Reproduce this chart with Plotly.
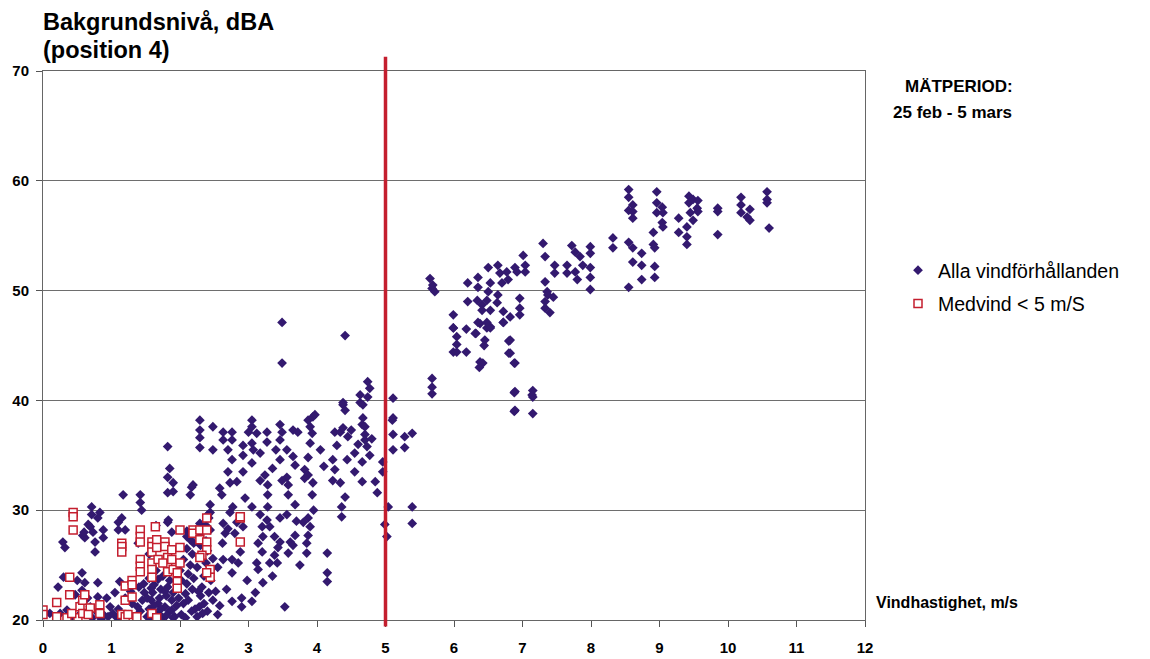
import plotly.graph_objects as go

# ---------------- DATA ----------------
# "Alla vindförhållanden" – points grouped by wind-speed band (m/s, dBA)
alla_0_1 = [(0.10, 20.6), (0.25, 20.6), (0.35, 20.9), (0.42, 20.3), (0.22, 23.0), (0.30, 23.9),
            (0.29, 27.1), (0.32, 26.6), (0.47, 22.3), (0.50, 23.6), (0.55, 21.5), (0.57, 24.3),
            (0.61, 23.4), (0.57, 22.7), (0.61, 20.6), (0.69, 21.2), (0.71, 30.3), (0.71, 29.6),
            (0.83, 29.8), (0.80, 29.3), (0.66, 28.7), (0.58, 27.7), (0.61, 27.5), (0.76, 27.1),
            (0.88, 28.2), (0.88, 27.5), (0.76, 26.2), (0.80, 23.4), (0.80, 22.1), (0.93, 22.0),
            (0.98, 21.2), (0.79, 20.7), (0.88, 20.5), (0.95, 20.3), (0.72, 20.2), (0.85, 20.1),
            (0.60, 28.0), (0.52, 20.4), (0.65, 22.0), (0.69, 28.5), (0.73, 28.0)]
alla_1_2 = [(1.17, 31.4), (1.15, 29.3), (1.10, 28.9), (1.10, 28.2), (1.20, 28.2), (1.42, 31.4),
            (1.42, 30.7), (1.44, 30.0), (1.39, 27.0), (1.05, 22.5), (1.10, 21.0), (1.15, 20.3),
            (1.25, 20.5), (1.30, 21.5), (1.35, 20.2), (1.45, 21.8), (1.48, 22.5), (1.40, 23.0),
            (1.20, 22.0), (1.02, 20.6), (1.08, 20.2), (1.28, 22.6), (1.42, 20.8), (1.38, 21.2),
            (1.47, 23.3), (1.12, 23.5),
            (1.52, 20.3), (1.55, 21.0), (1.58, 21.8), (1.60, 22.5), (1.62, 23.2), (1.65, 20.6),
            (1.68, 21.5), (1.70, 22.0), (1.72, 22.8), (1.75, 20.2), (1.78, 21.2), (1.80, 22.2),
            (1.82, 23.0), (1.85, 20.8), (1.88, 21.8), (1.90, 22.5), (1.92, 20.3), (1.95, 21.3),
            (1.98, 22.0), (1.55, 23.8), (1.60, 20.1), (1.70, 20.5), (1.80, 20.4), (1.90, 20.2),
            (1.65, 24.5), (1.75, 24.0), (1.85, 23.6), (1.58, 22.9), (1.68, 23.7), (1.72, 21.0),
            (1.95, 23.5), (1.62, 21.3), (1.78, 22.6), (1.88, 20.9), (1.52, 22.0), (1.58, 20.7),
            (1.82, 33.0), (1.90, 32.5), (1.82, 31.6), (1.90, 31.7), (1.83, 29.1), (1.82, 28.9),
            (1.88, 28.0), (1.72, 27.0), (1.65, 28.6), (1.55, 26.0), (1.82, 35.8), (1.85, 33.8)]
alla_2_3 = [(2.02, 20.5), (2.05, 21.5), (2.08, 22.4), (2.10, 23.3), (2.12, 24.2), (2.15, 25.0),
            (2.18, 26.0), (2.20, 27.0), (2.22, 27.8), (2.25, 20.3), (2.28, 21.2), (2.30, 22.2),
            (2.32, 23.0), (2.35, 24.0), (2.38, 25.2), (2.40, 26.3), (2.42, 22.5), (2.45, 23.6),
            (2.48, 21.8), (2.05, 25.5), (2.10, 26.5), (2.15, 27.3), (2.18, 22.8), (2.22, 21.0),
            (2.25, 24.8), (2.28, 25.8), (2.30, 26.8), (2.35, 21.5), (2.40, 20.8), (2.45, 24.6),
            (2.12, 21.8), (2.20, 23.8), (2.27, 22.6), (2.33, 20.6), (2.02, 23.6), (2.08, 20.2),
            (2.17, 20.8), (2.38, 27.2), (2.44, 28.2), (2.48, 25.6), (2.10, 28.1), (2.00, 24.5),
            (2.30, 28.0), (2.38, 28.6), (2.42, 29.3),
            (2.17, 32.1), (2.15, 31.4), (2.19, 32.3), (2.29, 38.2), (2.29, 37.3), (2.29, 36.6),
            (2.29, 35.7), (2.48, 37.6), (2.48, 35.5), (2.44, 30.5), (2.44, 29.8), (2.41, 29.6),
            (2.10, 27.6), (2.29, 28.8),
            (2.63, 37.1), (2.63, 36.4), (2.76, 37.1), (2.76, 36.4), (2.70, 35.5), (2.76, 34.6),
            (2.70, 33.5), (2.58, 32.0), (2.61, 31.4), (2.73, 32.5), (2.83, 32.6), (2.92, 33.5),
            (2.92, 35.9), (2.92, 35.0), (3.00, 37.1),
            (2.73, 29.8), (2.77, 30.3), (2.83, 28.9), (2.95, 31.1), (2.92, 28.5), (2.80, 27.9),
            (2.63, 28.8), (2.66, 27.9), (2.63, 25.5), (2.76, 24.3), (2.76, 25.5), (2.85, 25.2),
            (2.88, 26.2), (2.98, 23.6), (2.90, 22.0), (2.90, 21.2), (2.76, 21.7), (2.55, 24.8),
            (2.52, 22.6), (2.58, 21.3), (2.68, 22.8), (2.55, 20.5), (2.62, 27.0), (2.70, 28.3)]
alla_3_4 = [(3.05, 38.2), (3.05, 37.6), (3.12, 37.0), (3.05, 36.1), (3.07, 35.5), (3.05, 34.3),
            (3.27, 37.1), (3.27, 36.2), (3.17, 35.2), (3.24, 33.2), (3.17, 32.7), (3.28, 32.3),
            (3.28, 31.4), (3.46, 37.8), (3.49, 37.1), (3.46, 36.4), (3.46, 34.6), (3.49, 47.1),
            (3.49, 43.4), (3.40, 35.5), (3.35, 33.8),
            (3.05, 30.3), (3.05, 21.7), (3.17, 29.6), (3.28, 30.3), (3.20, 28.5), (3.27, 29.1),
            (3.31, 28.5), (3.21, 27.6), (3.14, 27.0), (3.20, 26.2), (3.12, 25.2), (3.14, 24.6),
            (3.21, 23.4), (3.31, 25.2), (3.38, 27.6), (3.46, 27.1), (3.43, 26.6), (3.38, 25.9),
            (3.42, 25.2), (3.46, 29.3), (3.53, 21.2), (3.35, 24.0), (3.10, 22.5),
            (3.56, 35.5), (3.65, 37.3), (3.65, 34.9), (3.68, 34.1), (3.56, 33.0), (3.49, 32.7),
            (3.58, 32.3), (3.58, 31.4), (3.68, 30.5), (3.72, 37.1), (3.87, 38.2), (3.94, 38.5),
            (3.90, 37.6), (3.93, 37.0), (3.90, 36.1), (3.87, 34.8), (3.82, 33.7), (3.87, 33.2),
            (3.94, 32.5), (3.93, 31.4), (3.82, 32.9), (3.97, 38.7), (3.56, 29.6), (3.61, 27.1),
            (3.65, 26.8), (3.58, 26.1), (3.68, 27.7), (3.80, 28.9), (3.87, 29.3), (3.90, 28.5),
            (3.87, 27.7), (3.85, 27.0), (3.85, 26.1), (3.75, 25.0), (3.95, 30.0), (3.70, 29.0)]
alla_4_5 = [(4.26, 37.1), (4.34, 37.1), (4.38, 37.5), (4.45, 36.7), (4.29, 35.9), (4.23, 34.6),
            (4.26, 33.7), (4.23, 32.7), (4.34, 32.5), (4.41, 31.2), (4.36, 30.3), (4.36, 29.4),
            (4.44, 34.6), (4.55, 35.2), (4.55, 33.5), (4.66, 34.4), (4.66, 32.6), (4.38, 39.6),
            (4.63, 39.8), (4.67, 38.4), (4.66, 37.8), (4.70, 36.9), (4.70, 36.4), (4.73, 35.8),
            (4.77, 35.0), (4.85, 32.6), (4.88, 31.6), (4.96, 34.4), (4.96, 33.5), (4.99, 28.7),
            (5.02, 27.6), (4.41, 45.9), (4.74, 41.7), (4.77, 41.1), (4.63, 40.5), (4.74, 40.3),
            (4.38, 39.8), (4.41, 39.1), (4.67, 39.6), (4.70, 37.6), (4.15, 26.1), (4.15, 24.3),
            (4.15, 23.5), (4.05, 35.5), (4.10, 34.0), (4.50, 37.3), (4.60, 36.0), (4.80, 36.5)]
alla_5_6 = [(5.04, 30.3), (5.10, 38.2), (5.11, 35.5), (5.11, 36.9), (5.28, 36.7), (5.39, 37.0),
            (5.28, 35.7), (5.39, 30.3), (5.39, 28.8), (5.11, 40.2), (5.11, 38.4),
            (5.68, 42.0), (5.68, 41.2), (5.68, 40.6), (5.65, 51.1), (5.68, 50.2), (5.72, 49.9),
            (5.69, 50.5), (5.99, 47.8), (5.99, 46.6), (5.99, 44.4), (5.99, 46.6)]
alla_6_7 = [(6.04, 45.8), (6.04, 45.1), (6.04, 44.4), (6.18, 46.5), (6.18, 44.4), (6.32, 46.1),
            (6.38, 47.0), (6.45, 45.5), (6.44, 45.0), (6.38, 43.5), (6.42, 43.4), (6.37, 43.0),
            (6.48, 46.6), (6.53, 46.7), (6.72, 47.1), (6.80, 45.4), (6.80, 44.3), (6.88, 43.4),
            (6.88, 40.7), (6.88, 39.0), (6.20, 50.7), (6.20, 49.0), (6.35, 51.2), (6.35, 50.3),
            (6.34, 49.1), (6.41, 48.7), (6.41, 48.2), (6.35, 47.1), (6.31, 46.1), (6.50, 52.1),
            (6.53, 50.7), (6.50, 49.9), (6.48, 49.1), (6.53, 48.2), (6.48, 47.1), (6.53, 46.6),
            (6.64, 52.3), (6.67, 51.6), (6.70, 50.7), (6.64, 49.6), (6.63, 48.9), (6.72, 48.1),
            (6.72, 47.1), (6.77, 51.7), (6.79, 51.0), (6.89, 52.1), (6.96, 49.3), (6.96, 48.4),
            (6.96, 47.8), (6.82, 47.6), (6.82, 45.5), (6.82, 44.3), (6.89, 43.4), (6.92, 51.7),
            (6.89, 40.8), (6.89, 39.1)]
alla_7_8 = [(7.01, 53.2), (7.04, 52.3), (7.04, 51.7), (7.30, 54.3), (7.33, 53.1), (7.33, 50.8),
            (7.36, 49.9), (7.37, 49.6), (7.33, 49.0), (7.33, 48.4), (7.40, 48.0), (7.45, 49.4),
            (7.47, 52.3), (7.47, 51.6), (7.65, 52.3), (7.65, 51.6), (7.72, 54.1), (7.77, 53.5),
            (7.77, 51.7), (7.80, 51.0), (7.84, 53.1), (7.88, 52.3), (7.99, 54.0), (7.99, 53.4),
            (7.99, 52.1), (7.99, 51.2), (7.99, 50.1), (7.15, 40.9), (7.15, 40.3), (7.15, 38.8),
            (7.14, 40.5)]
alla_8_11 = [(8.32, 53.9), (8.32, 54.8), (8.55, 59.2), (8.55, 58.5), (8.61, 57.8), (8.55, 57.3),
             (8.61, 57.2), (8.61, 56.6), (8.96, 59.0), (8.96, 58.0), (9.04, 57.6), (8.96, 57.1),
             (9.05, 57.1), (9.04, 56.2), (9.05, 55.8), (8.91, 55.3), (8.91, 54.2), (8.93, 53.9),
             (8.93, 52.2), (8.93, 51.2), (8.55, 54.4), (8.61, 53.9), (8.61, 52.6), (8.74, 53.4),
             (8.74, 52.3), (8.74, 51.0), (8.55, 50.3), (9.28, 56.6), (9.28, 55.3), (9.40, 55.8),
             (9.40, 54.9), (9.40, 54.2), (9.43, 58.6), (9.43, 58.0), (9.49, 58.3), (9.56, 58.2),
             (9.55, 57.5), (9.45, 57.1), (9.56, 57.2), (9.49, 56.4), (9.85, 57.5), (9.85, 57.2),
             (9.85, 55.1), (10.19, 58.5), (10.19, 57.8), (10.19, 57.1), (10.32, 57.4),
             (10.28, 56.7), (10.32, 56.4), (10.57, 59.0), (10.57, 58.3), (10.57, 58.0),
             (10.60, 55.7)]

# "Medvind < 5 m/S"
medvind_pts = [(0.00, 20.9), (0.00, 20.5), (0.20, 21.6), (0.20, 20.3), (0.35, 20.2), (0.39, 23.9),
               (0.39, 22.3), (0.44, 29.8), (0.44, 29.4), (0.44, 28.2), (0.51, 20.2), (0.42, 20.6),
               (0.54, 21.2), (0.58, 21.8), (0.61, 22.3), (0.58, 20.6), (0.69, 21.1), (0.66, 20.5),
               (0.83, 21.4), (0.83, 20.6), (1.15, 27.0), (1.15, 26.7), (1.15, 26.2), (1.20, 23.1),
               (1.20, 21.8), (1.30, 23.6), (1.30, 23.2), (1.30, 22.1), (1.15, 20.5), (1.20, 20.3),
               (1.24, 20.5), (1.37, 20.3), (1.42, 28.2), (1.42, 27.6), (1.42, 27.1), (1.42, 25.5),
               (1.42, 24.9), (1.42, 24.4), (1.59, 27.1), (1.59, 26.7), (1.59, 26.2), (1.59, 25.2),
               (1.59, 24.6), (1.59, 23.9), (1.59, 20.6), (1.64, 28.5), (1.66, 27.3), (1.66, 26.6),
               (1.68, 25.5), (1.66, 20.2), (1.78, 27.1), (1.78, 26.7), (1.82, 25.7), (1.82, 25.0),
               (1.82, 24.4), (1.75, 25.2), (1.88, 26.4), (1.88, 25.5), (1.90, 24.6), (1.96, 23.5),
               (1.96, 22.9), (1.96, 24.3), (2.00, 28.2), (2.00, 26.6), (2.00, 25.2), (2.19, 28.2),
               (2.19, 27.9), (2.29, 28.2), (2.29, 27.3), (2.39, 29.3), (2.39, 28.2), (2.39, 27.1),
               (2.39, 26.4), (2.32, 25.9), (2.29, 25.7), (2.44, 24.6), (2.44, 23.9), (2.39, 24.3),
               (2.88, 29.3), (2.88, 29.4), (2.88, 27.1)]

series_names = ["Alla vindförhållanden", "Medvind < 5 m/S"]
x_ticks = list(range(0, 13))
y_ticks = [20, 30, 40, 50, 60, 70]
limit_speed = 5

alla_pts = alla_0_1 + alla_1_2 + alla_2_3 + alla_3_4 + alla_4_5 + alla_5_6 + alla_6_7 + alla_7_8 + alla_8_11

# ---------------- FIGURE ----------------
FONT = "Arial, Liberation Sans, sans-serif"
PURPLE = "#33196F"
RED = "#C41E2E"

fig = go.Figure()
fig.add_trace(go.Scatter(
    x=[p[0] for p in alla_pts], y=[p[1] for p in alla_pts], mode="markers",
    name=series_names[0], legendgroup="a",
    marker=dict(symbol="diamond", size=7.5, color=PURPLE, line=dict(width=0)),
))
fig.add_trace(go.Scatter(
    x=[p[0] for p in medvind_pts], y=[p[1] for p in medvind_pts], mode="markers",
    name=series_names[1], legendgroup="b",
    marker=dict(symbol="square", size=8, color="white", line=dict(width=1.5, color=RED)),
))

fig.add_shape(type="line", xref="x", yref="paper", x0=limit_speed, x1=limit_speed,
              y0=-0.012, y1=1.026, line=dict(color=RED, width=3.5), layer="above")

L, T, W, H = 43, 71, 822, 549


def px(xp):
    return (xp - L) / W


def py(yp):
    return (T + H - yp) / H


tickfont = dict(size=15, family=FONT, color="black")

fig.update_layout(
    width=1150, height=659,
    margin=dict(l=L, r=1150 - L - W, t=T, b=659 - T - H, autoexpand=False),
    paper_bgcolor="white", plot_bgcolor="white",
    font=dict(family=FONT, color="black"),
    showlegend=True,
    legend=dict(x=px(898), y=py(251), xanchor="left", yanchor="top",
                font=dict(size=19.5, family=FONT, color="black"),
                bgcolor="rgba(0,0,0,0)", tracegroupgap=5, traceorder="grouped",
                itemsizing="trace"),
    xaxis=dict(range=[0, 12], tickvals=x_ticks, ticktext=[f"<b>{v}</b>" for v in x_ticks],
               ticks="outside", ticklen=6, tickcolor="#555", ticklabelstandoff=8,
               showline=True, linecolor="#666", linewidth=1, mirror=True, showgrid=False,
               zeroline=False, tickfont=tickfont),
    yaxis=dict(range=[20, 70], tickvals=y_ticks, ticktext=[f"<b>{v}</b>" for v in y_ticks],
               ticks="outside", ticklen=6, tickcolor="#555", ticklabelstandoff=4,
               showline=True, linecolor="#666", linewidth=1, mirror=True, showgrid=True,
               gridcolor="#6e6e6e", gridwidth=1, zeroline=False, tickfont=tickfont),
    annotations=[
        dict(text="<b>Bakgrundsnivå, dBA</b>", xref="paper", yref="paper", x=px(41), y=py(22),
             xanchor="left", yanchor="middle", showarrow=False, font=dict(size=23.5, family=FONT)),
        dict(text="<b>(position 4)</b>", xref="paper", yref="paper", x=px(41), y=py(50),
             xanchor="left", yanchor="middle", showarrow=False, font=dict(size=23.5, family=FONT)),
        dict(text="<b>MÄTPERIOD:</b>", xref="paper", yref="paper", x=px(959), y=py(87),
             xanchor="center", yanchor="middle", showarrow=False, font=dict(size=17, family=FONT)),
        dict(text="<b>25 feb - 5 mars</b>", xref="paper", yref="paper", x=px(952), y=py(112),
             xanchor="center", yanchor="middle", showarrow=False, font=dict(size=17, family=FONT)),
        dict(text="<b>Vindhastighet, m/s</b>", xref="paper", yref="paper", x=px(874), y=py(602),
             xanchor="left", yanchor="middle", showarrow=False, font=dict(size=16, family=FONT)),
    ],
)

fig.write_html("out.html")
